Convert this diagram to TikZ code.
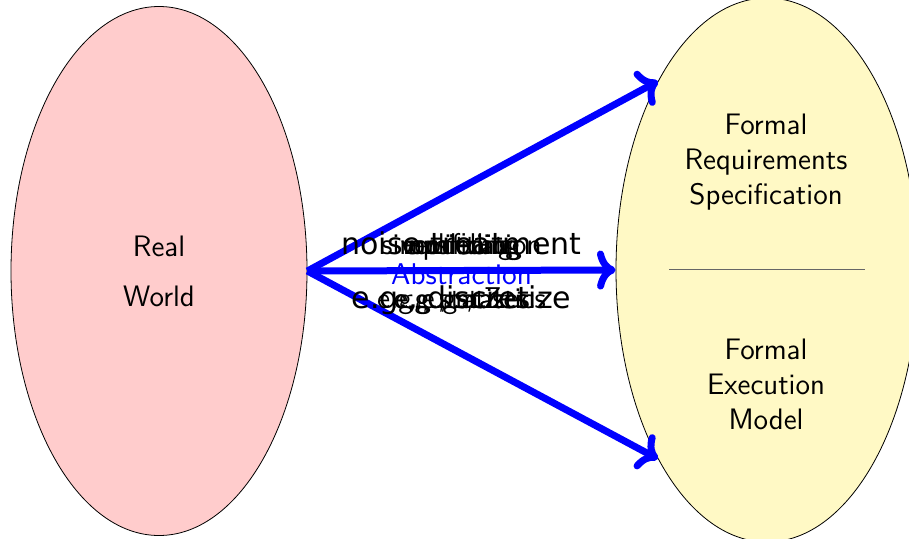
\documentclass[tikz,border=0pt]{standalone}
\usepackage{fontspec}
\newfontfamily\dejavu{DejaVu Sans}
\usetikzlibrary{positioning,arrows.meta,shapes.geometric}
\definecolor{specyellow}{RGB}{255,249,197}

\begin{document}
\begin{tikzpicture}[x=0.5pt,y=0.5pt,
world/.style={ellipse,draw,thin,fill=red!20,minimum width=148pt,minimum height=264.5pt,align=center,font=\sffamily\fontsize{14.8}{25}\selectfont},
formal/.style={ellipse,draw,thin,fill=specyellow,minimum width=151pt,minimum height=272pt},
txt/.style={align=center,font=\sffamily\fontsize{14.8}{17.5}\selectfont},
arr/.style={->,blue,line width=3.5pt},
over/.style={midway,anchor=base,yshift=8pt,text=black,font=\sffamily\fontsize{15}{16}\selectfont},
under/.style={midway,anchor=base,yshift=-19pt,text=black,font=\sffamily\fontsize{15}{16}\selectfont}]
\useasboundingbox (0,0) rectangle (909,538);
\node[world] (real) at (159,267) {Real\\World};
\node[formal] (formal) at (767,268) {};
\node[txt] (spec) at (766,376) {Formal\\Requirements\\Specification};
\node[txt] (exec) at (766,154) {Formal\\Execution\\Model};
\draw[black!60] (669,269) -- (865,269);
\draw[arr] (real.east) -- (formal.120);
\draw[arr] (real.east) -- (formal.240);
\draw[arr] (real.east) -- (formal.west)
  node[over] {omitting} node[over] {versioning} node[over] {simplification}
  node[over] {modelling} node[over,font=\dejavu\fontsize{15}{16}\selectfont] {noise treatment}
  node[midway,yshift=-2pt,font=\sffamily\fontsize{15}{16}\selectfont] {Abstraction}
  node[under] {e.g., Z} node[under] {e.g., mazes} node[under] {e.g., statistics}
  node[under] {e.g., states} node[under,font=\dejavu\fontsize{15}{16}\selectfont] {e.g., discretize};
\end{tikzpicture}
\end{document}
